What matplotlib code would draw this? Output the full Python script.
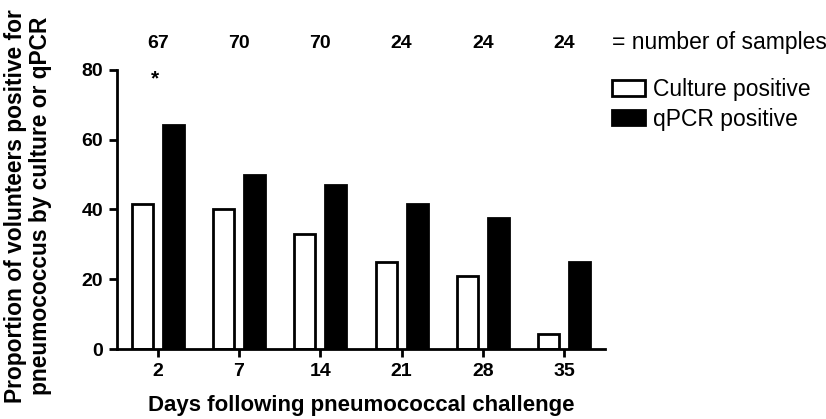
import matplotlib
matplotlib.use("Agg")
import matplotlib.pyplot as plt
import numpy as np

days = ["2", "7", "14", "21", "28", "35"]
culture = [41.7, 40.0, 33.0, 25.0, 20.8, 4.2]
qpcr = [64.2, 50.0, 47.1, 41.7, 37.5, 25.0]
n_samples = ["67", "70", "70", "24", "24", "24"]

plt.rcParams['font.family'] = ['Liberation Sans', 'DejaVu Sans']

fig = plt.figure(figsize=(8.26, 4.19), dpi=100)
ax = fig.add_axes([117/826, 70/419, (605-117)/826, (349-70)/419])

x = np.arange(len(days))
off = 0.19
w = 0.26
ax.bar(x - off, culture, width=w, facecolor='white', edgecolor='black', linewidth=2, label='Culture positive')
ax.bar(x + off, qpcr, width=w, facecolor='black', edgecolor='black', linewidth=2, label='qPCR positive')

ax.set_xlim(-0.5, 5.5)
ax.set_ylim(0, 80)
ax.set_xticks(x)
ax.set_xticklabels(days, fontsize=14, fontweight='bold')
ax.set_yticks([0, 20, 40, 60, 80])
ax.set_yticklabels(['0', '20', '40', '60', '80'], fontsize=14, fontweight='bold')
for s in ['top', 'right']:
    ax.spines[s].set_visible(False)
for s in ['left', 'bottom']:
    ax.spines[s].set_linewidth(2)
ax.tick_params(axis='both', width=2, length=6, direction='out', pad=4)

fig.text(361/826, 1 - 405/419, 'Days following pneumococcal challenge', ha='center', va='center',
         fontsize=16, fontweight='bold')
fig.text(28/826, 1 - 206/419, 'Proportion of volunteers positive for\npneumococcus by culture or qPCR',
         ha='center', va='center', rotation=90, fontsize=16.4, fontweight='bold', linespacing=1.1)

for i, n in enumerate(n_samples):
    ax.text(x[i], 87.5, n, ha='center', va='center', fontsize=14, fontweight='bold', clip_on=False)
fig.text(612/826, 1 - 43/419, '= number of samples', ha='left', va='center', fontsize=16.5)
ax.text(x[0] - 0.03, 77.5, '*', ha='center', va='center', fontsize=15, fontweight='bold', clip_on=False)

leg = ax.legend(loc='upper left', bbox_to_anchor=(612/826, 1 - 78/419), bbox_transform=fig.transFigure,
                frameon=False, fontsize=16.5, borderaxespad=0, borderpad=0,
                handlelength=1.43, handleheight=0.65, handletextpad=0.35, labelspacing=0.3)

fig.savefig('out.png', dpi=100)
